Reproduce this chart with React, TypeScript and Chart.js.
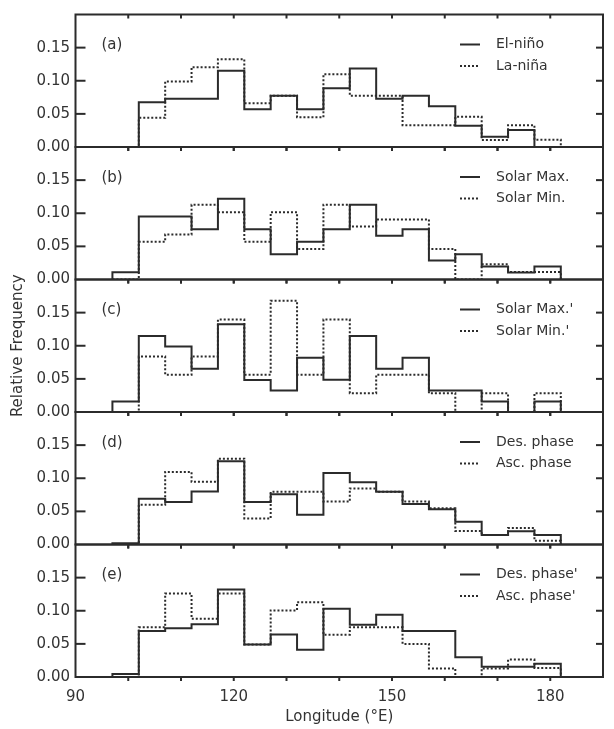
import React, { useEffect, useRef } from 'react';
import { Chart, registerables } from 'chart.js';

Chart.register(...registerables);

// Bin edges (°E), 17 bins of 5°
const binEdges = [97, 102, 107, 112, 117, 122, 127, 132, 137, 142, 147, 152, 157, 162, 167, 172, 177, 182];

const panelLetters = ['(a)', '(b)', '(c)', '(d)', '(e)'];
const solidLabels = ['El-niño', 'Solar Max.', "Solar Max.'", 'Des. phase', "Des. phase'"];
const dottedLabels = ['La-niña', 'Solar Min.', "Solar Min.'", 'Asc. phase', "Asc. phase'"];

// (a)
const elNino = [0, 0.0675, 0.073, 0.073, 0.115, 0.057, 0.0775, 0.057, 0.0885, 0.1185, 0.073, 0.0775, 0.0615, 0.032, 0.0155, 0.0255, 0];
const laNina = [0, 0.044, 0.099, 0.1205, 0.1325, 0.066, 0.0775, 0.045, 0.11, 0.0775, 0.0775, 0.033, 0.033, 0.0455, 0.0105, 0.033, 0.011];
// (b)
const solarMax = [0.011, 0.095, 0.095, 0.0757, 0.122, 0.0757, 0.038, 0.057, 0.0757, 0.113, 0.066, 0.0757, 0.0287, 0.038, 0.0198, 0.0104, 0.0198];
const solarMin = [0, 0.057, 0.068, 0.113, 0.1015, 0.057, 0.1015, 0.046, 0.113, 0.08, 0.0906, 0.0906, 0.046, 0, 0.023, 0.0114, 0.0114];
// (c)
const solarMaxP = [0.016, 0.1146, 0.0987, 0.0653, 0.1325, 0.0483, 0.0324, 0.0817, 0.0488, 0.1146, 0.0653, 0.0817, 0.0324, 0.0324, 0.016, 0, 0.016];
const solarMinP = [0, 0.0837, 0.0563, 0.0837, 0.1395, 0.0563, 0.168, 0.0563, 0.1395, 0.0284, 0.0563, 0.0563, 0.0284, 0, 0.0284, 0, 0.0284];
// (d)
const desPhase = [0.002, 0.069, 0.064, 0.08, 0.1256, 0.064, 0.0757, 0.0448, 0.108, 0.094, 0.0797, 0.0613, 0.0533, 0.0344, 0.0144, 0.02, 0.0144];
const ascPhase = [0, 0.06, 0.1096, 0.0947, 0.1295, 0.0394, 0.0797, 0.0797, 0.0648, 0.0847, 0.0797, 0.0648, 0.0548, 0.0204, 0.0144, 0.025, 0.0055];
// (e)
const desPhaseP = [0.0045, 0.0696, 0.0735, 0.0795, 0.132, 0.049, 0.064, 0.041, 0.103, 0.079, 0.094, 0.0696, 0.0696, 0.03, 0.0154, 0.0154, 0.02];
const ascPhaseP = [0, 0.075, 0.126, 0.088, 0.126, 0.049, 0.1005, 0.113, 0.0637, 0.075, 0.075, 0.05, 0.013, 0, 0.013, 0.0264, 0.0134];

const solidSeries = [elNino, solarMax, solarMaxP, desPhase, desPhaseP];
const dottedSeries = [laNina, solarMin, solarMinP, ascPhase, ascPhaseP];

const FONT = 'DejaVu Sans';
const TEXT = '#333333';
const LINE = '#2b2b2b';

const toSteps = (vals: number[]) => {
  const pts: { x: number; y: number }[] = [{ x: binEdges[0], y: 0 }];
  vals.forEach((v, i) => pts.push({ x: binEdges[i], y: v }));
  pts.push({ x: binEdges[binEdges.length - 1], y: 0 });
  return pts;
};

export default function App() {
  const ref = useRef<HTMLCanvasElement>(null);

  useEffect(() => {
    if (!ref.current) return;
    const ids = panelLetters.map((_, i) => 'y' + i);

    const datasets: any[] = [];
    ids.forEach((id, i) => {
      datasets.push({
        label: solidLabels[i],
        data: toSteps(solidSeries[i]),
        yAxisID: id,
        borderColor: LINE,
        borderWidth: 2,
        stepped: 'before',
        pointRadius: 0,
        fill: false,
        order: 0,
      });
      datasets.push({
        label: dottedLabels[i],
        data: toSteps(dottedSeries[i]),
        yAxisID: id,
        borderColor: LINE,
        borderWidth: 2,
        borderDash: [2, 2],
        stepped: 'before',
        pointRadius: 0,
        fill: false,
        order: 1,
      });
    });

    const scales: any = {
      x: {
        type: 'linear',
        position: 'bottom',
        min: 90,
        max: 190,
        grid: { display: false, drawTicks: false },
        border: { display: false },
        ticks: {
          stepSize: 10,
          autoSkip: false,
          maxRotation: 0,
          padding: 11,
          color: TEXT,
          font: { family: FONT, size: 15 },
          callback: (v: any) => (Number(v) % 30 === 0 ? String(v) : ''),
        },
        title: {
          display: true,
          text: 'Longitude (°E)',
          color: TEXT,
          font: { family: FONT, size: 15 },
          padding: { top: 0, bottom: 2.6 },
        },
        afterFit: (s: any) => {
          s.height = 52;
        },
      },
    };
    // define bottom panel first so that panel (a) ends up on top
    [...ids].reverse().forEach((id) => {
      const i = ids.indexOf(id);
      scales[id] = {
        type: 'linear',
        position: 'left',
        stack: 'panels',
        stackWeight: 1,
        min: 0,
        max: 0.2,
        grid: { display: false, drawTicks: false },
        border: { display: false },
        ticks: {
          stepSize: 0.05,
          autoSkip: false,
          padding: 5.5,
          color: TEXT,
          font: { family: FONT, size: 15 },
          callback: (v: any) => (Number(v) < 0.19 ? Number(v).toFixed(2) : ''),
        },
        title: {
          display: i === 2,
          text: 'Relative Frequency',
          color: TEXT,
          font: { family: FONT, size: 15 },
          padding: { top: 9.6, bottom: 0 },
        },
        afterFit: (s: any) => {
          s.width = 75.5;
        },
      };
    });

    const framePlugin = {
      id: 'panelFrame',
      afterDatasetsDraw(chart: any) {
        const ctx = chart.ctx;
        const xs = chart.scales.x;
        const left = chart.chartArea.left;
        const right = chart.chartArea.right;
        const seg = (x1: number, y1: number, x2: number, y2: number) => {
          ctx.beginPath();
          ctx.moveTo(x1, y1);
          ctx.lineTo(x2, y2);
          ctx.stroke();
        };
        ids.forEach((id, i) => {
          const ys = chart.scales[id];
          const top = ys.getPixelForValue(0.2);
          const bot = ys.getPixelForValue(0);
          ctx.save();
          ctx.setLineDash([]);
          ctx.strokeStyle = LINE;
          ctx.lineWidth = 2;
          ctx.strokeRect(left, top, right - left, bot - top);
          ys.ticks.forEach((t: any) => {
            const val = Number(t.value);
            if (val < 0.01 || val > 0.19) return;
            const py = ys.getPixelForValue(val);
            seg(left, py, left + 10, py);
            seg(right, py, right - 7, py);
          });
          xs.ticks.forEach((t: any) => {
            const val = Number(t.value);
            if (val < 95 || val > 185) return;
            const px = xs.getPixelForValue(val);
            seg(px, top, px, top + 4);
            seg(px, bot, px, bot + 4);
          });
          // panel letter
          ctx.fillStyle = TEXT;
          ctx.font = `15px "${FONT}"`;
          ctx.textBaseline = 'middle';
          ctx.textAlign = 'left';
          ctx.fillText(panelLetters[i], left + 26, top + 31);
          // legend
          const lx1 = left + 384.5;
          const rows = [top + 30, top + 51.5];
          seg(lx1, rows[0], lx1 + 20, rows[0]);
          ctx.setLineDash([2, 2]);
          seg(lx1, rows[1], lx1 + 20, rows[1]);
          ctx.setLineDash([]);
          ctx.font = `14px "${FONT}"`;
          ctx.fillText(solidLabels[i], lx1 + 36, rows[0]);
          ctx.fillText(dottedLabels[i], lx1 + 36, rows[1]);
          ctx.restore();
        });
      },
    };

    const chart = new Chart(ref.current, {
      type: 'line',
      data: { datasets },
      options: {
        animation: false,
        responsive: false,
        devicePixelRatio: 1,
        layout: { padding: { left: 0, right: 1.3, top: 5, bottom: 0 } },
        plugins: { legend: { display: false }, tooltip: { enabled: false } },
        scales,
      },
      plugins: [framePlugin],
    } as any);

    return () => chart.destroy();
  }, []);

  return (
    <div style={{ position: 'absolute', left: 0, top: 0, width: 614, height: 729, background: '#fff' }}>
      <canvas ref={ref} width={614} height={729} />
    </div>
  );
}
